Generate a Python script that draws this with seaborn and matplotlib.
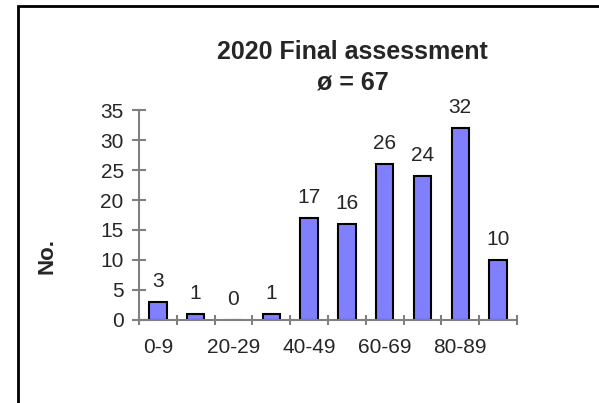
import numpy as np
import seaborn as sns
import matplotlib.pyplot as plt
from matplotlib.patches import Rectangle

# grade bands and number of students per band
bands = ['0-9', '10-19', '20-29', '30-39', '40-49',
         '50-59', '60-69', '70-79', '80-89', '90-100']
counts = [3, 1, 0, 1, 17, 16, 26, 24, 32, 10]
shown_bands = ['0-9', '20-29', '40-49', '60-69', '80-89']
title_line1 = '2020 Final assessment'
title_line2 = 'ø = 67'

sns.set_style("white")
plt.rcParams['font.family'] = ['Liberation Sans', 'DejaVu Sans']

fig = plt.figure(figsize=(5.99, 4.03), dpi=100)
ax = fig.add_axes([0.232, 0.206, 0.631, 0.521])

sns.barplot(x=bands, y=counts, color='#8080FF', saturation=1, width=0.46,
            edgecolor='black', linewidth=1.5, ax=ax)

ax.bar_label(ax.containers[0], padding=8, fontsize=15)

ax.set_ylim(0, 35)
ax.set_xlim(-0.5, len(bands) - 0.5)
ax.set_yticks(range(0, 36, 5))
ax.set_xticks(np.arange(len(bands) + 1) - 0.5)
ax.set_xticklabels([])
ax.set_xticks([bands.index(b) for b in shown_bands], minor=True)
ax.set_xticklabels(shown_bands, minor=True)
ax.set_xlabel('')
ax.set_ylabel('')

for side in ['top', 'right']:
    ax.spines[side].set_visible(False)
for side in ['left', 'bottom']:
    ax.spines[side].set_color('#808080')
    ax.spines[side].set_linewidth(1.5)

ax.tick_params(axis='y', direction='inout', length=10, width=1.5,
               color='#808080', pad=6, labelsize=15, left=True)
ax.tick_params(axis='x', which='major', direction='inout', length=7,
               width=1.5, color='#808080', bottom=True)
ax.tick_params(axis='x', which='minor', length=0, pad=13, labelsize=15)

fig.text(0.589, 1 - 52 / 403, title_line1, ha='center', va='center',
         fontsize=18, fontweight='bold')
fig.text(0.589, 1 - 83 / 403, title_line2, ha='center', va='center',
         fontsize=18, fontweight='bold')
fig.text(0.078, 1 - 256 / 403, 'No.', ha='center', va='center',
         rotation=90, fontsize=16, fontweight='bold')

# chart frame (only left and top edges are inside the picture)
fig.add_artist(Rectangle((18 / 599, -0.5), 2, 1.5 - 6 / 403, fill=False,
                         lw=2, edgecolor='black', transform=fig.transFigure,
                         clip_on=False))

fig.savefig('out.png', dpi=100)
